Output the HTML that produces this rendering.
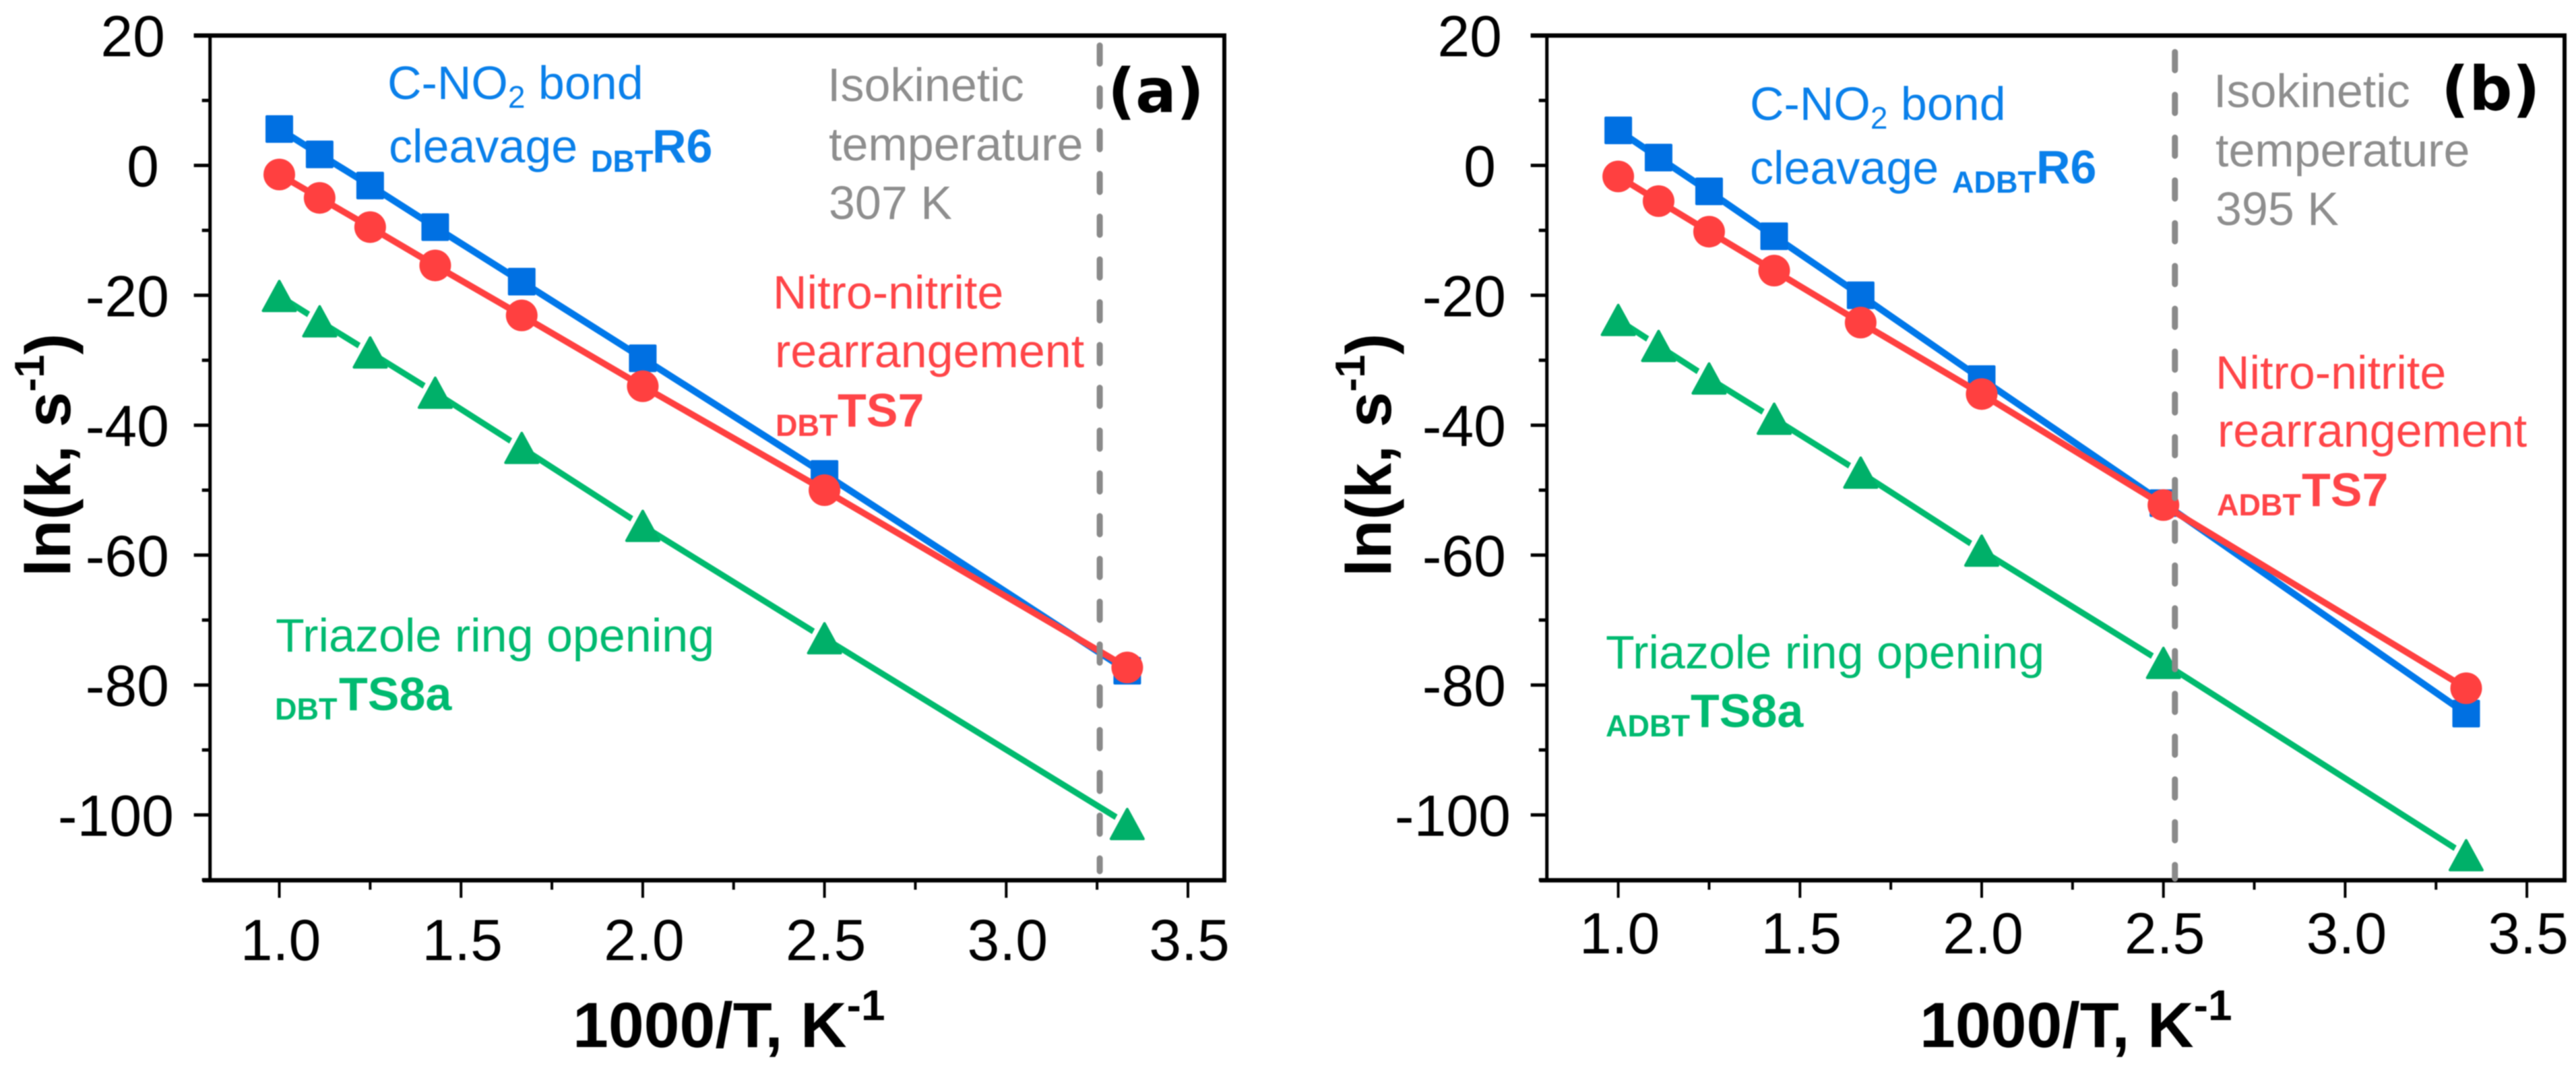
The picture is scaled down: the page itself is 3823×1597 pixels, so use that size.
<!DOCTYPE html>
<html lang="en">
<head>
<meta charset="utf-8">
<title>Arrhenius plots of DBT and ADBT</title>
<style>
html,body{margin:0;padding:0;background:#fff;}
svg{display:block;filter:blur(0.8px);}
text{font-family:"Liberation Sans",Arial,sans-serif;}
.a-blue{fill:#0A80EA;font-size:70px;}
.a-red{fill:#FF4548;font-size:70px;}
.a-green{fill:#00BA70;font-size:70px;}
.a-gray{fill:#8E8E8E;font-size:70px;}
.sub{font-size:45px;font-weight:bold;}
.bld{font-weight:bold;}
.panel-tag{font-family:"DejaVu Sans",sans-serif;font-weight:bold;font-size:90px;fill:#000;}
.axis-title{font-weight:bold;font-size:95px;fill:#000;}
.tick-label{font-size:86px;fill:#000;}
</style>
</head>
<body>
<svg id="chart" xmlns="http://www.w3.org/2000/svg" width="3823" height="1597" viewBox="0 0 3823 1597">
  <rect x="0" y="0" width="3823" height="1597" fill="#fff"/>
  <g id="panel-a"></g>
  <g id="panel-b"></g>

  <g>
    <text class="a-blue" x="575" y="147">C-NO<tspan font-size="46" dy="13">2</tspan><tspan dy="-13"> bond</tspan></text>
    <text class="a-blue" x="577" y="241">cleavage</text>
    <text class="a-blue sub" x="877" y="255">DBT</text>
    <text class="a-blue bld" x="968" y="241">R6</text>
    <text class="a-gray" x="1228" y="150">Isokinetic</text>
    <text class="a-gray" x="1230" y="238">temperature</text>
    <text class="a-gray" x="1230" y="325">307 K</text>
    <text class="a-red" x="1147" y="458">Nitro-nitrite</text>
    <text class="a-red" x="1150" y="545">rearrangement</text>
    <text class="a-red sub" x="1151" y="647">DBT</text>
    <text class="a-red bld" x="1243" y="633">TS7</text>
    <text class="a-green" x="409" y="967">Triazole ring opening</text>
    <text class="a-green sub" x="408" y="1068">DBT</text>
    <text class="a-green bld" x="503" y="1054">TS8a</text>
    <text class="panel-tag" x="1644" y="166">(a)</text>
  </g>

  <g>
    <text class="a-blue" x="2597" y="178">C-NO<tspan font-size="46" dy="13">2</tspan><tspan dy="-13"> bond</tspan></text>
    <text class="a-blue" x="2597" y="273">cleavage</text>
    <text class="a-blue sub" x="2897" y="286">ADBT</text>
    <text class="a-blue bld" x="3022" y="272">R6</text>
    <text class="a-gray" x="3285" y="159">Isokinetic</text>
    <text class="a-gray" x="3288" y="247">temperature</text>
    <text class="a-gray" x="3288" y="334">395 K</text>
    <text class="a-red" x="3288" y="577">Nitro-nitrite</text>
    <text class="a-red" x="3291" y="663">rearrangement</text>
    <text class="a-red sub" x="3290" y="765">ADBT</text>
    <text class="a-red bld" x="3416" y="751">TS7</text>
    <text class="a-green" x="2383" y="992">Triazole ring opening</text>
    <text class="a-green sub" x="2383" y="1093">ADBT</text>
    <text class="a-green bld" x="2509" y="1079">TS8a</text>
    <text class="panel-tag" x="3623" y="163">(b)</text>
  </g>

  <text class="axis-title" transform="translate(104 856) rotate(-90)">ln(k, s<tspan font-size="62" dy="-39">-1</tspan><tspan dy="39">)</tspan></text>
  <text class="axis-title" transform="translate(2064 856) rotate(-90)">ln(k, s<tspan font-size="62" dy="-39">-1</tspan><tspan dy="39">)</tspan></text>
  <text class="axis-title" x="850" y="1554">1000/T, K<tspan font-size="64" dy="-40">-1</tspan></text>
  <text class="axis-title" x="2849" y="1554">1000/T, K<tspan font-size="64" dy="-40">-1</tspan></text>
</svg>
<script>
const inverseTemperature = [1.0, 1.111, 1.25, 1.429, 1.667, 2.0, 2.5, 3.333];
const dbtR6 = [5.6, 1.7, -3.1, -9.5, -17.9, -29.7, -47.5, -77.8];
const dbtTS7 = [-1.4, -5.0, -9.5, -15.4, -23.1, -34.0, -50.0, -77.3];
const dbtTS8a = [-20.1, -24.0, -28.8, -35.0, -43.5, -55.5, -72.8, -101.4];
const adbtR6 = [5.4, 1.2, -4.0, -10.9, -20.0, -32.9, -52.0, -84.4];
const adbtTS7 = [-1.7, -5.5, -10.2, -16.2, -24.2, -35.2, -52.3, -80.5];
const adbtTS8a = [-23.8, -27.8, -32.8, -39.0, -47.3, -59.3, -76.6, -106.2];
const isokineticDbt = [307];
const isokineticAdbt = [395];
const yMajorTicks = [20, 0, -20, -40, -60, -80, -100];
const yMinorTicks = [10, -10, -30, -50, -70, -90, -110];
const yTickLabels = ['20', '0', '-20', '-40', '-60', '-80', '-100'];
const xMajorTicks = [1.0, 1.5, 2.0, 2.5, 3.0, 3.5];
const xMinorTicks = [1.25, 1.75, 2.25, 2.75, 3.25];
const xTickLabels = ['1.0', '1.5', '2.0', '2.5', '3.0', '3.5'];

const SVG_NS = 'http://www.w3.org/2000/svg';
const BLUE = '#0070E2', BLUE_LINE = '#0078EA', RED = '#FF4040', GREEN = '#00B069', GREEN_LINE = '#00BA6E';
const AXIS_TOP = 52.7, AXIS_BOTTOM = 1306.5;
const yScale = v => 245.5 - 9.64 * v;
const labelEdge = {1: 236, 2: 245, 3: 251, 4: 258};

function make(parent, tag, attrs) {
  const el = document.createElementNS(SVG_NS, tag);
  for (const k in attrs) el.setAttribute(k, attrs[k]);
  parent.appendChild(el);
  return el;
}

function drawPanel(root, prefix, geo, r6, ts7, ts8a, isoTemp) {
  const xScale = v => geo.x1 + geo.ppu * (v - 1);
  const L = geo.left, R = geo.right;

  // spines
  const frame = [
    ['left', L, AXIS_TOP, L, AXIS_BOTTOM + 3, 5],
    ['right', R, AXIS_TOP - 3, R, AXIS_BOTTOM + 3, 6],
    ['top', L - 24, AXIS_TOP, R + 3, AXIS_TOP, 6.5],
    ['bottom', L - 11, AXIS_BOTTOM, R + 3, AXIS_BOTTOM, 6.5]
  ];
  frame.forEach(f => {
    const s = make(root, 'line', {x1: f[1], y1: f[2], x2: f[3], y2: f[4], stroke: '#000', 'stroke-width': f[5]});
    
    
  });

  // y ticks
  yMajorTicks.forEach((v, i) => {
    const t = make(root, 'line', {x1: L - 24, x2: L, y1: yScale(v), y2: yScale(v), stroke: '#000', 'stroke-width': 5});
    
    
    const label = make(root, 'text', {class: 'tick-label', x: labelEdge[yTickLabels[i].length] + geo.labelShift, y: yScale(v) + 31, 'text-anchor': 'end'});
    label.textContent = yTickLabels[i];
    
    
  });
  yMinorTicks.forEach(v => {
    const t = make(root, 'line', {x1: L - 12, x2: L, y1: yScale(v), y2: yScale(v), stroke: '#000', 'stroke-width': 5});
    
    
  });

  // x ticks
  xMajorTicks.forEach((v, i) => {
    const t = make(root, 'line', {x1: xScale(v), x2: xScale(v), y1: AXIS_BOTTOM, y2: AXIS_BOTTOM + 26, stroke: '#000', 'stroke-width': 4});
    
    
    const label = make(root, 'text', {class: 'tick-label', x: xScale(v) + 2, y: geo.xLabelBaseline, 'text-anchor': 'middle'});
    label.textContent = xTickLabels[i];
    
    
  });
  xMinorTicks.forEach(v => {
    const t = make(root, 'line', {x1: xScale(v), x2: xScale(v), y1: AXIS_BOTTOM, y2: AXIS_BOTTOM + 14, stroke: '#000', 'stroke-width': 4});
    
    
  });

  const points = series => series.map((v, i) => xScale(inverseTemperature[i]).toFixed(1) + ',' + yScale(v).toFixed(1)).join(' ');
  const seriesLine = (series, color, w, name) => {
    const p = make(root, 'polyline', {points: points(series), fill: 'none', stroke: color, 'stroke-width': w, 'stroke-linejoin': 'round'});
    
    
  };

  // blue series
  seriesLine(r6, BLUE_LINE, 10, 'r6');
  r6.forEach((v, i) => {
    const m = make(root, 'rect', {x: xScale(inverseTemperature[i]) - 18.5, y: yScale(v) - 18.5, width: 37, height: 37, fill: BLUE, stroke: BLUE, 'stroke-width': 4, 'stroke-linejoin': 'round'});
    
    
  });

  // red series
  seriesLine(ts7, RED, 9.5, 'ts7');
  ts7.forEach((v, i) => {
    const m = make(root, 'circle', {cx: xScale(inverseTemperature[i]), cy: yScale(v), r: 23.5, fill: RED});
    
    
  });

  // green series
  seriesLine(ts8a, GREEN_LINE, 9, 'ts8a');
  const triangle = (v, i, shift) => {
    const cx = xScale(inverseTemperature[i]) + shift, cy = yScale(v);
    return [[cx, cy - 22], [cx - 24, cy + 22], [cx + 24, cy + 22]].map(p => p[0].toFixed(1) + ',' + p[1].toFixed(1)).join(' ');
  };
  ts8a.forEach((v, i) => {
    const h = make(root, 'polygon', {points: triangle(v, i, -10), fill: '#fff'});
    
    
  });
  ts8a.forEach((v, i) => {
    const m = make(root, 'polygon', {points: triangle(v, i, 0), fill: GREEN, stroke: GREEN, 'stroke-width': 4, 'stroke-linejoin': 'round'});
    
    
  });

  // isokinetic line
  const isoX = xScale(1000 / isoTemp[0]);
  const d = make(root, 'line', {x1: isoX, x2: isoX, y1: geo.isoTop + 4.5, y2: geo.isoBottom, stroke: '#8A8A8A', 'stroke-width': 9, 'stroke-linecap': 'round', 'stroke-dasharray': '27 36.5'});
  
  
}

drawPanel(document.getElementById('panel-a'), 'panel-a',
  {x1: 414.5, ppu: 539.4, left: 311.7, right: 1817, labelShift: 0, xLabelBaseline: 1425, isoTop: 63, isoBottom: 1293},
  dbtR6, dbtTS7, dbtTS8a, isokineticDbt);
drawPanel(document.getElementById('panel-b'), 'panel-b',
  {x1: 2401.6, ppu: 539.4, left: 2295.7, right: 3806, labelShift: 1984, xLabelBaseline: 1415, isoTop: 72.7, isoBottom: 1304},
  adbtR6, adbtTS7, adbtTS8a, isokineticAdbt);
</script>
</body>
</html>
